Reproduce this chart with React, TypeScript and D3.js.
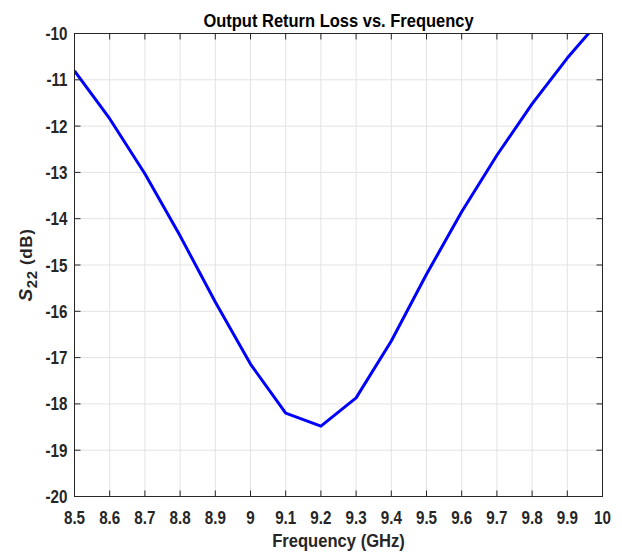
import React from "react";
import * as d3 from "d3";

const freqGHz = [8.5, 8.6, 8.7, 8.8, 8.9, 9.0, 9.1, 9.2, 9.3, 9.4, 9.5, 9.6, 9.7, 9.8, 9.9, 10.0];
const s22dB = [-10.81, -11.84, -13.03, -14.37, -15.8, -17.14, -18.2, -18.48, -17.87, -16.64, -15.2, -13.85, -12.63, -11.52, -10.53, -9.65];
const xTicks = [8.5, 8.6, 8.7, 8.8, 8.9, 9.0, 9.1, 9.2, 9.3, 9.4, 9.5, 9.6, 9.7, 9.8, 9.9, 10];
const xTickLabels = ["8.5", "8.6", "8.7", "8.8", "8.9", "9", "9.1", "9.2", "9.3", "9.4", "9.5", "9.6", "9.7", "9.8", "9.9", "10"];
const yTicks = [-20, -19, -18, -17, -16, -15, -14, -13, -12, -11, -10];
const titleText = "Output Return Loss vs. Frequency";
const xLabelText = "Frequency (GHz)";

const W = 622;
const H = 556;
const L = 74.5;
const R = 602.5;
const T = 33.5;
const B = 496.5;
const FONT = "'Liberation Sans', Arial, Helvetica, sans-serif";
const SY = 1.15;

export default function App() {
  const x = d3.scaleLinear().domain([8.5, 10]).range([L, R]);
  const y = d3.scaleLinear().domain([-20, -10]).range([B, T]);
  const line = d3
    .line<number>()
    .x((_, i) => x(freqGHz[i]))
    .y((d) => y(d));
  const axisColor = "#262626";
  const gridColor = "#e3e3e3";
  const tickLen = 6;
  return (
    <svg
      width={W}
      height={H}
      style={{ position: "absolute", left: 0, top: 0, background: "#fff" }}
    >
      <defs>
        <clipPath id="plotClip">
          <rect x={L} y={T} width={R - L} height={B - T} />
        </clipPath>
      </defs>
      <rect x={0} y={0} width={W} height={H} fill="#fff" />
      {xTicks.map((t) => (
        <line key={"gx" + t} x1={x(t)} x2={x(t)} y1={T} y2={B} stroke={gridColor} strokeWidth={1} />
      ))}
      {yTicks.map((t) => (
        <line key={"gy" + t} x1={L} x2={R} y1={y(t)} y2={y(t)} stroke={gridColor} strokeWidth={1} />
      ))}
      <path
        d={line(s22dB) || ""}
        fill="none"
        stroke="#0000ff"
        strokeWidth={3}
        strokeLinejoin="round"
        clipPath="url(#plotClip)"
      />
      <rect x={L} y={T} width={R - L} height={B - T} fill="none" stroke={axisColor} strokeWidth={1} />
      {xTicks.map((t) => (
        <g key={"tx" + t}>
          <line x1={x(t)} x2={x(t)} y1={B} y2={B - tickLen} stroke={axisColor} />
          <line x1={x(t)} x2={x(t)} y1={T} y2={T + tickLen} stroke={axisColor} />
        </g>
      ))}
      {yTicks.map((t) => (
        <g key={"ty" + t}>
          <line x1={L} x2={L + tickLen} y1={y(t)} y2={y(t)} stroke={axisColor} />
          <line x1={R} x2={R - tickLen} y1={y(t)} y2={y(t)} stroke={axisColor} />
        </g>
      ))}
      {xTicks.map((t, i) => (
        <g key={"lx" + t} transform={`translate(${x(t)},523.5) scale(1,1.22)`}>
          <text textAnchor="middle" fontFamily={FONT} fontWeight="bold" fontSize={15.2} fill={axisColor}>
            {xTickLabels[i]}
          </text>
        </g>
      ))}
      {yTicks.map((t) => (
        <g key={"ly" + t} transform={`translate(67.5,${y(t) + 6.5}) scale(1,${SY})`}>
          <text textAnchor="end" fontFamily={FONT} fontWeight="bold" fontSize={15.2} fill={axisColor}>
            {String(t)}
          </text>
        </g>
      ))}
      <g transform={`translate(${(L + R) / 2},26.5) scale(1,${SY})`}>
        <text textAnchor="middle" fontFamily={FONT} fontWeight="bold" fontSize={16.5} fill="#000">
          {titleText}
        </text>
      </g>
      <g transform={`translate(${(L + R) / 2},546.5) scale(1,${SY})`}>
        <text textAnchor="middle" fontFamily={FONT} fontWeight="bold" fontSize={16.6} fill={axisColor}>
          {xLabelText}
        </text>
      </g>
      <g transform={`translate(32,${(T + B) / 2}) rotate(-90)`}>
        <text textAnchor="middle" fontFamily={FONT} fontWeight="bold" fontSize={17} fill={axisColor} letterSpacing={0.6}>
          <tspan fontStyle="italic" fontSize={19}>S</tspan>
          <tspan dy={5} fontSize={15}>22</tspan>
          <tspan dy={-5}>{"  (dB)"}</tspan>
        </text>
      </g>
    </svg>
  );
}
